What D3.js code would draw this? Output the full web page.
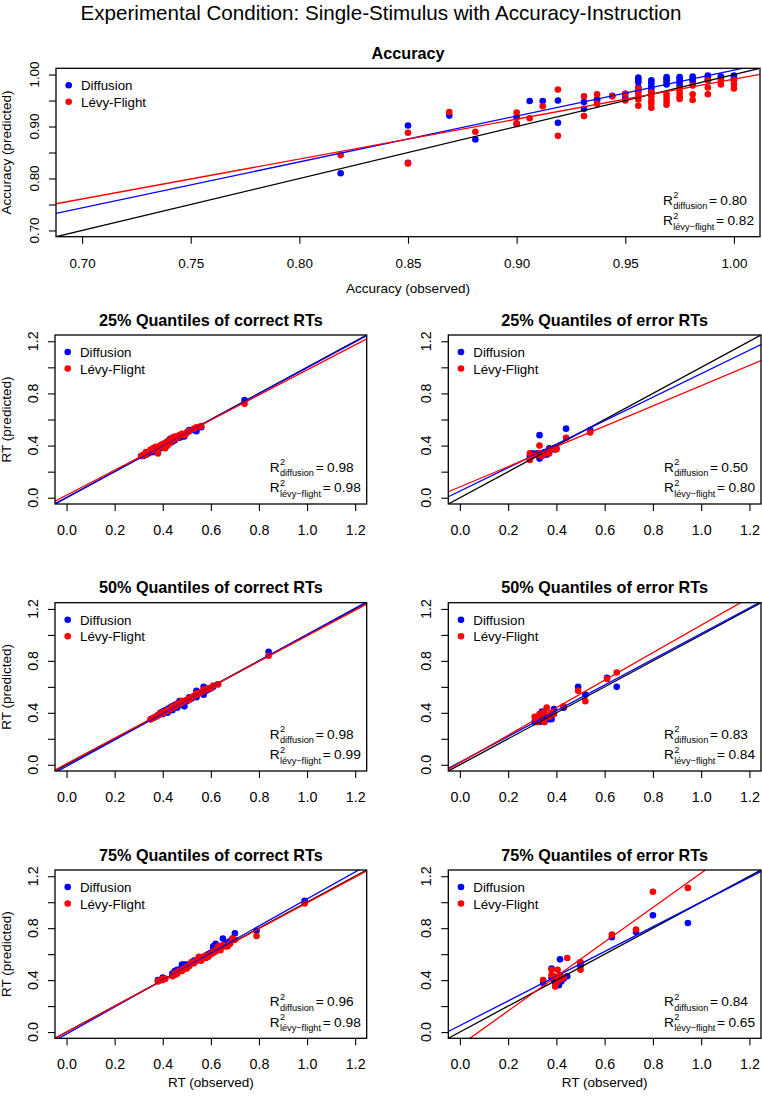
<!DOCTYPE html>
<html lang="en">
<head>
<meta charset="UTF-8">
<title>Single-Stimulus with Accuracy-Instruction</title>
<script src="https://cdn.jsdelivr.net/npm/d3@7"></script>
<style>
  body { margin: 0; background: #fff; }
  svg { display: block; font-family: "Liberation Sans", Arial, sans-serif; }
</style>
</head>
<body>
<div id="chart"></div>
<script>
// ---- data ----
var mainTitle = "Experimental Condition: Single-Stimulus with Accuracy-Instruction";
var seriesNames = ["Diffusion", "Lévy-Flight"];
var r2Subs = ["diffusion", "lévy\u2212flight"];

// accuracy: observed, predicted by diffusion, predicted by levy-flight
var accObs  = [0.819,0.850,0.850,0.869,0.881,0.900,0.900,0.906,0.912,0.919,0.919,0.931,0.931,0.937,0.937,0.944,0.950,0.950,
               0.956,0.956,0.956,0.956,0.956,0.962,0.962,0.962,0.962,0.962,0.969,0.969,0.969,0.969,0.975,0.975,0.975,0.975,
               0.981,0.981,0.981,0.988,0.988,0.988,0.994,0.994,1.000,1.000,1.000];
var accDiff = [0.810,0.902,0.830,0.921,0.875,0.918,0.905,0.949,0.949,0.950,0.907,0.947,0.934,0.952,0.950,0.959,0.963,0.955,
               0.994,0.990,0.985,0.975,0.969,0.989,0.984,0.978,0.972,0.966,0.995,0.991,0.986,0.981,0.995,0.990,0.985,0.979,
               0.996,0.991,0.987,0.998,0.994,0.989,0.996,0.993,0.998,0.994,0.989];
var accLevy = [0.845,0.888,0.829,0.928,0.890,0.927,0.906,0.916,0.939,0.971,0.882,0.958,0.920,0.962,0.944,0.958,0.963,0.950,
               0.973,0.965,0.958,0.952,0.940,0.966,0.958,0.950,0.944,0.936,0.962,0.955,0.948,0.942,0.972,0.965,0.958,0.953,
               0.979,0.962,0.951,0.989,0.975,0.962,0.989,0.981,0.989,0.981,0.973];
var accFit = [[0.1255, 0.883], [0.223, 0.768]];   // [intercept, slope] diffusion, levy
var accR2 = ["0.80", "0.82"];

// 25% quantiles, correct RTs
var q25cObs  = [0.31,0.32,0.33,0.33,0.34,0.35,0.35,0.36,0.36,0.37,0.37,0.38,0.38,0.39,0.39,0.40,0.40,0.41,0.41,0.42,0.42,0.43,0.43,0.44,0.44,0.45,0.45,0.46,0.47,0.48,0.49,0.50,0.51,0.53,0.54,0.56,0.74];
var q25cDiff = [0.32,0.32,0.33,0.34,0.34,0.35,0.36,0.35,0.37,0.36,0.38,0.35,0.37,0.38,0.40,0.39,0.41,0.40,0.42,0.41,0.43,0.42,0.45,0.43,0.46,0.44,0.46,0.47,0.46,0.47,0.47,0.50,0.52,0.52,0.51,0.54,0.75];
var q25cLevy = [0.32,0.33,0.33,0.35,0.35,0.36,0.37,0.37,0.38,0.38,0.39,0.34,0.38,0.39,0.40,0.40,0.41,0.38,0.42,0.40,0.43,0.42,0.44,0.44,0.46,0.45,0.47,0.46,0.48,0.49,0.48,0.50,0.51,0.53,0.54,0.55,0.72];
var q25cFit = [[0.002, 0.995], [0.020, 0.960]];
var q25cR2 = ["0.98", "0.98"];

// 25% quantiles, error RTs
var q25eObs  = [0.29,0.29,0.30,0.32,0.33,0.33,0.34,0.35,0.36,0.37,0.37,0.39,0.40,0.44,0.54];
var q25eDiff = [0.32,0.30,0.34,0.34,0.48,0.30,0.33,0.35,0.33,0.38,0.36,0.37,0.38,0.53,0.52];
var q25eLevy = [0.29,0.34,0.32,0.33,0.40,0.34,0.32,0.34,0.35,0.34,0.37,0.38,0.37,0.46,0.50];
var q25eFit = [[0.051, 0.901], [0.083, 0.776]];
var q25eR2 = ["0.50", "0.80"];

// 50% quantiles, correct RTs
var q50cObs  = [0.35,0.36,0.37,0.38,0.39,0.40,0.40,0.41,0.42,0.42,0.43,0.44,0.44,0.45,0.46,0.46,0.47,0.48,0.48,0.49,0.50,0.51,0.51,0.52,0.53,0.54,0.54,0.55,0.56,0.57,0.57,0.58,0.59,0.60,0.61,0.63,0.84];
var q50cDiff = [0.35,0.36,0.37,0.38,0.40,0.39,0.41,0.42,0.40,0.43,0.44,0.42,0.45,0.46,0.44,0.47,0.49,0.46,0.49,0.45,0.49,0.50,0.52,0.51,0.53,0.52,0.57,0.55,0.56,0.54,0.60,0.57,0.58,0.59,0.60,0.62,0.87];
var q50cLevy = [0.35,0.36,0.37,0.38,0.39,0.40,0.40,0.41,0.42,0.42,0.43,0.44,0.44,0.45,0.47,0.46,0.47,0.48,0.49,0.49,0.50,0.50,0.51,0.52,0.53,0.54,0.55,0.55,0.56,0.57,0.58,0.58,0.59,0.59,0.61,0.62,0.84];
var q50cFit = [[-0.012, 1.015], [0.008, 0.985]];
var q50cR2 = ["0.98", "0.99"];

// 50% quantiles, error RTs
var q50eObs  = [0.31,0.32,0.33,0.33,0.34,0.35,0.35,0.36,0.37,0.38,0.39,0.43,0.49,0.52,0.61,0.65];
var q50eDiff = [0.33,0.36,0.35,0.33,0.41,0.33,0.38,0.35,0.35,0.35,0.43,0.44,0.60,0.54,0.67,0.60];
var q50eLevy = [0.37,0.33,0.36,0.39,0.38,0.41,0.33,0.44,0.37,0.40,0.39,0.45,0.57,0.49,0.66,0.71];
var q50eFit = [[0.020, 0.990], [0.015, 1.060]];
var q50eR2 = ["0.83", "0.84"];

// 75% quantiles, correct RTs
var q75cObs  = [0.38,0.39,0.40,0.40,0.41,0.44,0.45,0.45,0.46,0.46,0.47,0.48,0.48,0.49,0.50,0.50,0.51,0.52,0.53,0.54,0.55,0.55,0.56,0.57,0.58,0.58,0.59,0.60,0.61,0.61,0.62,0.62,0.63,0.64,0.65,0.66,0.67,0.68,0.69,0.70,0.79,0.99];
var q75cDiff = [0.40,0.40,0.42,0.41,0.41,0.45,0.46,0.47,0.47,0.48,0.48,0.52,0.50,0.52,0.50,0.52,0.51,0.53,0.55,0.55,0.56,0.57,0.57,0.58,0.59,0.58,0.60,0.61,0.66,0.64,0.68,0.65,0.64,0.66,0.72,0.68,0.69,0.70,0.72,0.76,0.78,1.01];
var q75cLevy = [0.39,0.40,0.40,0.41,0.41,0.43,0.44,0.45,0.46,0.45,0.47,0.47,0.48,0.49,0.49,0.50,0.51,0.54,0.53,0.55,0.58,0.56,0.55,0.58,0.57,0.59,0.58,0.60,0.61,0.62,0.62,0.63,0.66,0.63,0.67,0.66,0.66,0.68,0.72,0.71,0.74,0.99];
var q75cFit = [[-0.015, 1.040], [0.000, 0.995]];
var q75cR2 = ["0.96", "0.98"];

// 75% quantiles, error RTs
var q75eObs  = [0.345,0.38,0.38,0.39,0.395,0.40,0.405,0.41,0.415,0.42,0.43,0.445,0.50,0.50,0.63,0.73,0.80,0.945];
var q75eDiff = [0.38,0.49,0.42,0.40,0.38,0.37,0.40,0.36,0.56,0.39,0.41,0.43,0.53,0.51,0.73,0.77,0.90,0.84];
var q75eLevy = [0.40,0.48,0.44,0.43,0.35,0.38,0.48,0.40,0.44,0.41,0.42,0.57,0.54,0.48,0.75,0.79,1.08,1.11];
var q75eFit = [[0.050, 0.951], [-0.103, 1.328]];
var q75eR2 = ["0.84", "0.65"];

var accTicks = [0.70, 0.75, 0.80, 0.85, 0.90, 0.95, 1.00];
var accYLabels = [0.70, 0.80, 0.90, 1.00];
var rtTicks = [0.0, 0.2, 0.4, 0.6, 0.8, 1.0, 1.2];
var rtYLabels = [0.0, 0.4, 0.8, 1.2];

// ---- layout ----
var W = 762, H = 1098;
var colors = ["#0000ff", "#ff0000"];
var colL = [55, 366.7], colR = [448.3, 761];
var rows = [[335, 504], [602.7, 771], [870, 1038.3]];

var panels = [
  { title: "Accuracy", obs: accObs, pred: [accDiff, accLevy], fit: accFit, r2: accR2,
    x: [56, 760], y: [68.3, 236.7], dom: [0.688, 1.012], ticks: accTicks, ylabs: accYLabels,
    fmt: d3.format(".2f"), tick: 13.4, xlab: "Accuracy (observed)", xlabY: 56, ylab: "Accuracy (predicted)" },
  { title: "25% Quantiles of correct RTs", obs: q25cObs, pred: [q25cDiff, q25cLevy], fit: q25cFit, r2: q25cR2,
    x: colL, y: rows[0], ylab: "RT (predicted)" },
  { title: "25% Quantiles of error RTs", obs: q25eObs, pred: [q25eDiff, q25eLevy], fit: q25eFit, r2: q25eR2,
    x: colR, y: rows[0] },
  { title: "50% Quantiles of correct RTs", obs: q50cObs, pred: [q50cDiff, q50cLevy], fit: q50cFit, r2: q50cR2,
    x: colL, y: rows[1], ylab: "RT (predicted)" },
  { title: "50% Quantiles of error RTs", obs: q50eObs, pred: [q50eDiff, q50eLevy], fit: q50eFit, r2: q50eR2,
    x: colR, y: rows[1] },
  { title: "75% Quantiles of correct RTs", obs: q75cObs, pred: [q75cDiff, q75cLevy], fit: q75cFit, r2: q75cR2,
    x: colL, y: rows[2], ylab: "RT (predicted)", xlab: "RT (observed)", xlabY: 49 },
  { title: "75% Quantiles of error RTs", obs: q75eObs, pred: [q75eDiff, q75eLevy], fit: q75eFit, r2: q75eR2,
    x: colR, y: rows[2], xlab: "RT (observed)", xlabY: 49 }
];
panels.forEach(function (p) {
  if (!p.dom) {
    p.dom = [-0.048, 1.248]; p.ticks = rtTicks; p.ylabs = rtYLabels;
    p.fmt = d3.format(".1f"); p.tick = 14.3;
  }
});

var svg = d3.select("#chart").append("svg")
  .attr("width", W).attr("height", H);
svg.append("rect").attr("width", W).attr("height", H).attr("fill", "#fff");

svg.append("text")
  .attr("x", W / 2).attr("y", 19.5)
  .attr("text-anchor", "middle")
  .attr("font-size", 20.6)
  .text(mainTitle);

var defs = svg.append("defs");

panels.forEach(function (p, i) {
  var x = d3.scaleLinear().domain(p.dom).range(p.x);
  var y = d3.scaleLinear().domain(p.dom).range([p.y[1], p.y[0]]);
  var g = svg.append("g");
  var cx = (p.x[0] + p.x[1]) / 2, cy = (p.y[0] + p.y[1]) / 2;

  defs.append("clipPath").attr("id", "clip" + i)
    .append("rect")
    .attr("x", p.x[0]).attr("y", p.y[0])
    .attr("width", p.x[1] - p.x[0]).attr("height", p.y[1] - p.y[0]);

  // title
  g.append("text")
    .attr("x", cx).attr("y", p.y[0] - 9.5)
    .attr("text-anchor", "middle")
    .attr("font-size", 16.2).attr("font-weight", "bold")
    .text(p.title);

  // x axis
  var xa = g.append("g")
    .attr("transform", "translate(0," + p.y[1] + ")")
    .call(d3.axisBottom(x).tickValues(p.ticks).tickFormat(p.fmt).tickSize(7).tickPadding(11));
  xa.select(".domain").remove();
  xa.selectAll("line").attr("stroke", "#000").attr("stroke-width", 1.1);
  xa.selectAll("text").attr("font-size", p.tick).attr("font-family", null)
    .attr("dy", null).attr("y", 31);

  // y axis (rotated labels, only some labelled)
  var ya = g.append("g")
    .attr("transform", "translate(" + p.x[0] + ",0)")
    .call(d3.axisLeft(y).tickValues(p.ticks).tickFormat("").tickSize(7));
  ya.select(".domain").remove();
  ya.selectAll("line").attr("stroke", "#000").attr("stroke-width", 1.1);
  g.append("g").selectAll("text")
    .data(p.ylabs)
    .join("text")
    .attr("transform", function (d) { return "translate(" + (p.x[0] - 17) + "," + y(d) + ") rotate(-90)"; })
    .attr("text-anchor", "middle")
    .attr("font-size", p.tick)
    .text(p.fmt);

  // axis titles
  if (p.xlab) {
    g.append("text")
      .attr("x", cx).attr("y", p.y[1] + p.xlabY)
      .attr("text-anchor", "middle").attr("font-size", 13.5)
      .text(p.xlab);
  }
  if (p.ylab) {
    g.append("text")
      .attr("transform", "translate(11," + cy + ") rotate(-90)")
      .attr("text-anchor", "middle").attr("font-size", 13.5)
      .text(p.ylab);
  }

  // points: diffusion first, levy on top
  p.pred.forEach(function (vals, s) {
    g.append("g").selectAll("circle")
      .data(vals)
      .join("circle")
      .attr("cx", function (d, j) { return x(p.obs[j]); })
      .attr("cy", function (d) { return y(d); })
      .attr("r", 3.3)
      .attr("fill", colors[s]);
  });

  // identity + regression lines, clipped to the plot box
  var lines = [[0, 1, "#000"], [p.fit[0][0], p.fit[0][1], colors[0]], [p.fit[1][0], p.fit[1][1], colors[1]]];
  g.append("g").attr("clip-path", "url(#clip" + i + ")")
    .selectAll("line")
    .data(lines)
    .join("line")
    .attr("x1", x(p.dom[0])).attr("x2", x(p.dom[1]))
    .attr("y1", function (d) { return y(d[0] + d[1] * p.dom[0]); })
    .attr("y2", function (d) { return y(d[0] + d[1] * p.dom[1]); })
    .attr("stroke", function (d) { return d[2]; })
    .attr("stroke-width", 1.3);

  // box
  g.append("rect")
    .attr("x", p.x[0]).attr("y", p.y[0])
    .attr("width", p.x[1] - p.x[0]).attr("height", p.y[1] - p.y[0])
    .attr("fill", "none").attr("stroke", "#000").attr("stroke-width", 1.3);

  // legend (top left)
  var lg = g.append("g");
  seriesNames.forEach(function (name, s) {
    var ly = p.y[0] + 17 + s * 16.5;
    lg.append("circle").attr("cx", p.x[0] + 12.7).attr("cy", ly).attr("r", 3.3).attr("fill", colors[s]);
    lg.append("text").attr("x", p.x[0] + 25).attr("y", ly + 5).attr("font-size", 13.3).text(name);
  });

  // R^2 legend (bottom right)
  p.r2.forEach(function (val, s) {
    var t = g.append("g")
      .attr("transform", "translate(" + (p.x[1] - 97) + "," + (p.y[1] - 32 + s * 20.4) + ")");
    var R = t.append("text").attr("font-size", 13.7).text("R");
    var w = R.node().getComputedTextLength();
    t.append("text").attr("x", w + 0.3).attr("y", -6.6).attr("font-size", 9.2).text("2");
    var sub = t.append("text").attr("x", w + 0.3).attr("y", 4.4).attr("font-size", 9.2).text(r2Subs[s]);
    var sw = sub.node().getComputedTextLength();
    var eq = t.append("text").attr("x", w + sw + 2).attr("font-size", 13.7).text("=");
    var ew = eq.node().getComputedTextLength();
    t.append("text").attr("x", w + sw + 2 + ew + 3.4).attr("font-size", 13.7).text(val);
  });
});
</script>
</body>
</html>
